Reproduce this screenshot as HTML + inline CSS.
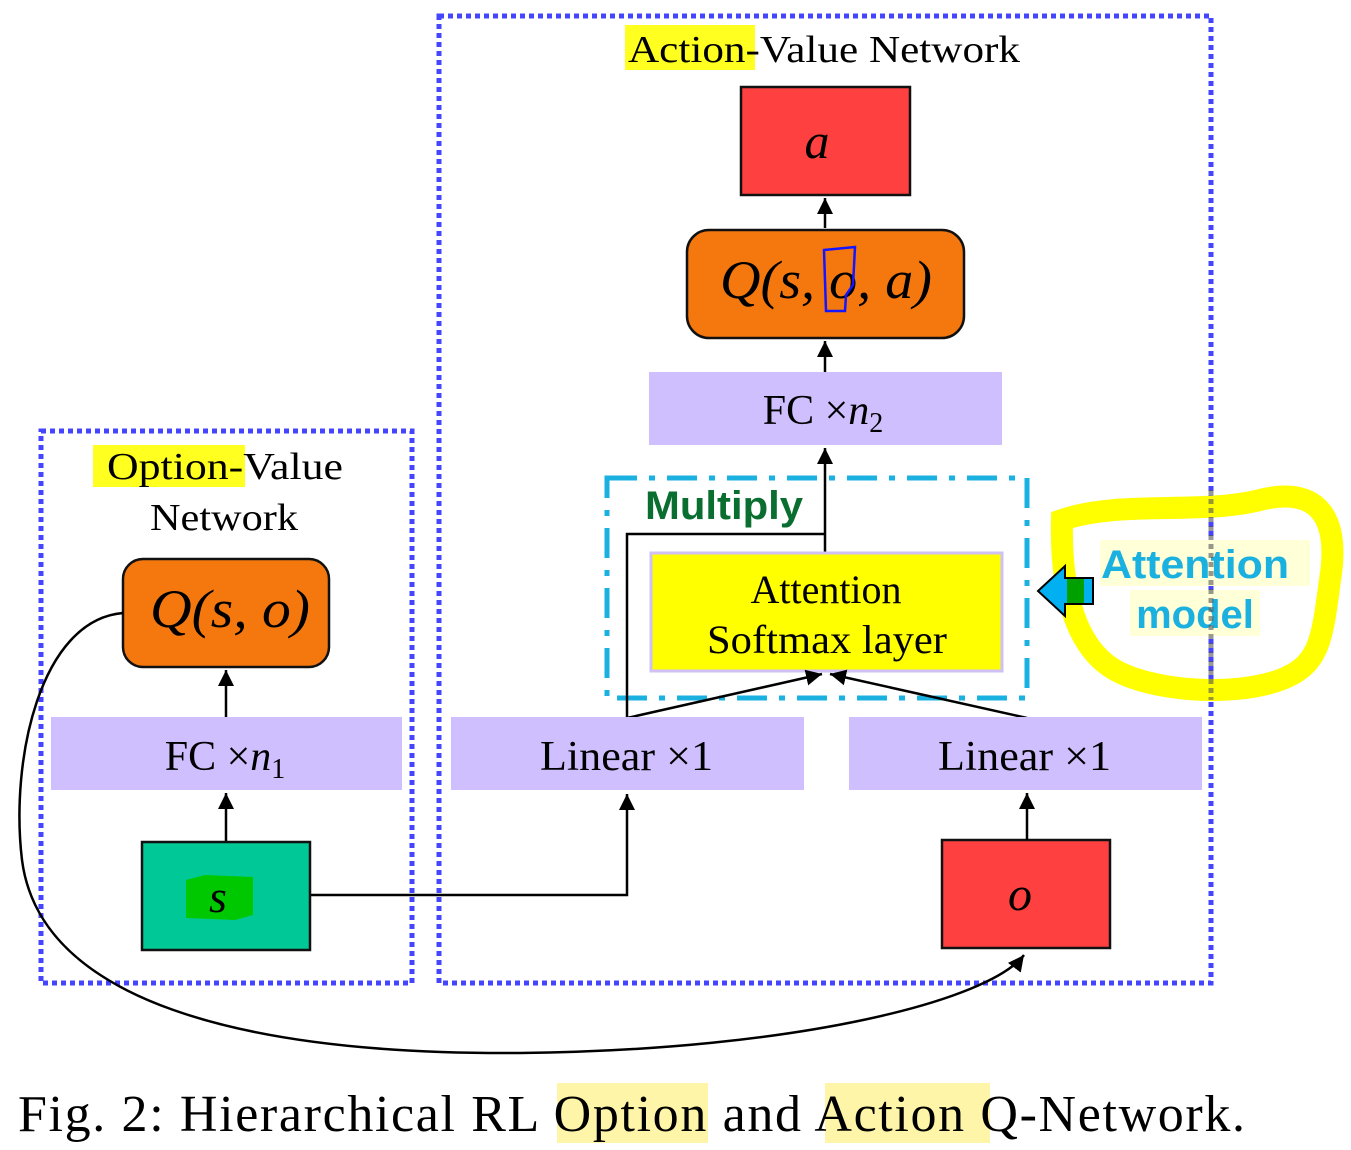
<!DOCTYPE html>
<html><head><meta charset="utf-8"><style>
html,body{margin:0;padding:0;background:#fff}
svg{display:block}
.s{font-family:"Liberation Serif",serif}
.m{font-family:"Liberation Serif",serif;font-style:italic}
</style></head><body>
<svg width="1351" height="1150" viewBox="0 0 1351 1150" xmlns="http://www.w3.org/2000/svg">
<defs>
<marker id="a2" viewBox="0 0 10 10" markerWidth="16" markerHeight="16" refX="10" refY="5" orient="auto" markerUnits="userSpaceOnUse"><path d="M0,0 L10,5 L0,10 z" fill="#000"/></marker></defs>

<rect x="41" y="431" width="371" height="552" fill="none" stroke="#4545ff" stroke-width="5" stroke-dasharray="5 4"/>
<rect x="439" y="16" width="772" height="967" fill="none" stroke="#4545ff" stroke-width="5" stroke-dasharray="5 4"/>

<rect x="625" y="25" width="130" height="45" fill="#ffff20"/>
<rect x="93" y="445" width="152" height="42" fill="#ffff20"/>
<text x="628" y="62" class="s" font-size="38" textLength="392" lengthAdjust="spacingAndGlyphs">Action-Value Network</text>
<text x="107" y="479" class="s" font-size="38" textLength="236" lengthAdjust="spacingAndGlyphs">Option-Value</text>
<text x="150" y="530" class="s" font-size="38" textLength="148" lengthAdjust="spacingAndGlyphs">Network</text>

<rect x="741" y="87" width="169" height="108" fill="#ff4040" stroke="#111" stroke-width="2.5"/>
<text x="817" y="158" class="m" font-size="50" text-anchor="middle">a</text>
<line x1="825" y1="228" x2="825" y2="198" stroke="#000" stroke-width="2.5" marker-end="url(#a2)"/>
<rect x="687" y="230" width="277" height="108" rx="22" fill="#f5780f" stroke="#111" stroke-width="2.5"/>
<text x="720" y="298" class="m" font-size="54" textLength="212" lengthAdjust="spacingAndGlyphs">Q(s, o, a)</text>
<path d="M824,250 L855,247 L853,285 L846,295 L845,311 L826,311 Z" fill="none" stroke="#1515ff" stroke-width="2.5"/>
<line x1="825" y1="372" x2="825" y2="341" stroke="#000" stroke-width="2.5" marker-end="url(#a2)"/>
<rect x="649" y="372" width="353" height="73" fill="#d0bfff"/>
<text x="823" y="424" class="s" font-size="42" text-anchor="middle">FC ×<tspan font-style="italic">n</tspan><tspan font-size="28" dy="8">2</tspan></text>
<line x1="825" y1="552" x2="825" y2="448" stroke="#000" stroke-width="2.5" marker-end="url(#a2)"/>

<rect x="607" y="478" width="420" height="220" fill="none" stroke="#1ab0e0" stroke-width="5" stroke-dasharray="30 12 6 12"/>
<text x="645" y="519" font-family="Liberation Sans,sans-serif" font-weight="bold" font-size="40" fill="#0a6e30" textLength="158" lengthAdjust="spacingAndGlyphs">Multiply</text>
<polyline points="627,718 627,534 825,534" fill="none" stroke="#000" stroke-width="2.5"/>
<rect x="651" y="553" width="351" height="118" fill="#ffff00" stroke="#cfc0f5" stroke-width="3"/>
<text x="826" y="603" class="s" font-size="40" text-anchor="middle">Attention</text>
<text x="827" y="653" class="s" font-size="40" text-anchor="middle" textLength="240" lengthAdjust="spacingAndGlyphs">Softmax layer</text>
<line x1="627" y1="718" x2="822" y2="674" stroke="#000" stroke-width="2.5" marker-end="url(#a2)"/>
<line x1="1027" y1="718" x2="830" y2="674" stroke="#000" stroke-width="2.5" marker-end="url(#a2)"/>

<rect x="451" y="717" width="353" height="73" fill="#d0bfff"/>
<text x="540" y="770" class="s" font-size="42" textLength="173" lengthAdjust="spacingAndGlyphs">Linear ×1</text>
<rect x="849" y="717" width="353" height="73" fill="#d0bfff"/>
<text x="938" y="770" class="s" font-size="42" textLength="173" lengthAdjust="spacingAndGlyphs">Linear ×1</text>
<polyline points="310,895 627,895 627,794" fill="none" stroke="#000" stroke-width="2.5" marker-end="url(#a2)"/>
<rect x="942" y="840" width="168" height="108" fill="#ff4040" stroke="#111" stroke-width="2.5"/>
<text x="1020" y="910" class="m" font-size="48" text-anchor="middle">o</text>
<line x1="1027" y1="840" x2="1027" y2="793" stroke="#000" stroke-width="2.5" marker-end="url(#a2)"/>

<rect x="123" y="559" width="206" height="108" rx="20" fill="#f5780f" stroke="#111" stroke-width="2.5"/>
<text x="150" y="627" class="m" font-size="54" textLength="160" lengthAdjust="spacingAndGlyphs">Q(s, o)</text>
<line x1="226" y1="717" x2="226" y2="670" stroke="#000" stroke-width="2.5" marker-end="url(#a2)"/>
<rect x="51" y="717" width="351" height="73" fill="#d0bfff"/>
<text x="225" y="770" class="s" font-size="42" text-anchor="middle">FC ×<tspan font-style="italic">n</tspan><tspan font-size="28" dy="8">1</tspan></text>
<line x1="226" y1="842" x2="226" y2="793" stroke="#000" stroke-width="2.5" marker-end="url(#a2)"/>
<rect x="142" y="842" width="168" height="108" fill="#00c896" stroke="#111" stroke-width="2.5"/>
<path d="M186,880 L205,875 L253,877 L253,915 L235,920 L186,918 Z" fill="#00c800"/>
<text x="218" y="912" class="m" font-size="46" text-anchor="middle">s</text>

<path d="M123,613 C40,620 10,760 22,860 C40,1000 240,1055 520,1053 C800,1050 990,1000 1024,955" fill="none" stroke="#000" stroke-width="2.5" marker-end="url(#a2)"/>

<path d="M1062,520 C1120,500 1200,515 1260,500 C1320,485 1340,520 1330,580 C1322,640 1320,665 1280,680 C1230,698 1150,690 1115,670 C1080,650 1060,600 1062,520 Z" fill="none" stroke="#ffff00" stroke-width="22"/>
<rect x="1100" y="540" width="210" height="46" fill="#ffffd8"/>
<rect x="1130" y="590" width="130" height="46" fill="#ffffd8"/>
<text x="1195" y="578" font-family="Liberation Sans,sans-serif" font-weight="bold" font-size="40" fill="#1ab0e0" text-anchor="middle" textLength="188" lengthAdjust="spacingAndGlyphs">Attention</text>
<text x="1195" y="628" font-family="Liberation Sans,sans-serif" font-weight="bold" font-size="40" fill="#1ab0e0" text-anchor="middle">model</text>
<path d="M1038,591 L1065,566 L1065,578 L1093,578 L1093,604 L1065,604 L1065,616 Z" fill="#00b0f0" stroke="#000" stroke-width="2"/>
<rect x="1067" y="579" width="17" height="24" fill="#00a000"/>
<line x1="1211" y1="490" x2="1211" y2="700" stroke="#555" stroke-width="5" stroke-dasharray="5 4" opacity="0.6"/>

<rect x="557" y="1083" width="151" height="60" fill="#fff5a8"/>
<rect x="825" y="1083" width="165" height="60" fill="#fff5a8"/>
<text x="18" y="1131" class="s" font-size="52" textLength="1227" lengthAdjust="spacing">Fig. 2: Hierarchical RL Option and Action Q-Network.</text>
</svg>
</body></html>
